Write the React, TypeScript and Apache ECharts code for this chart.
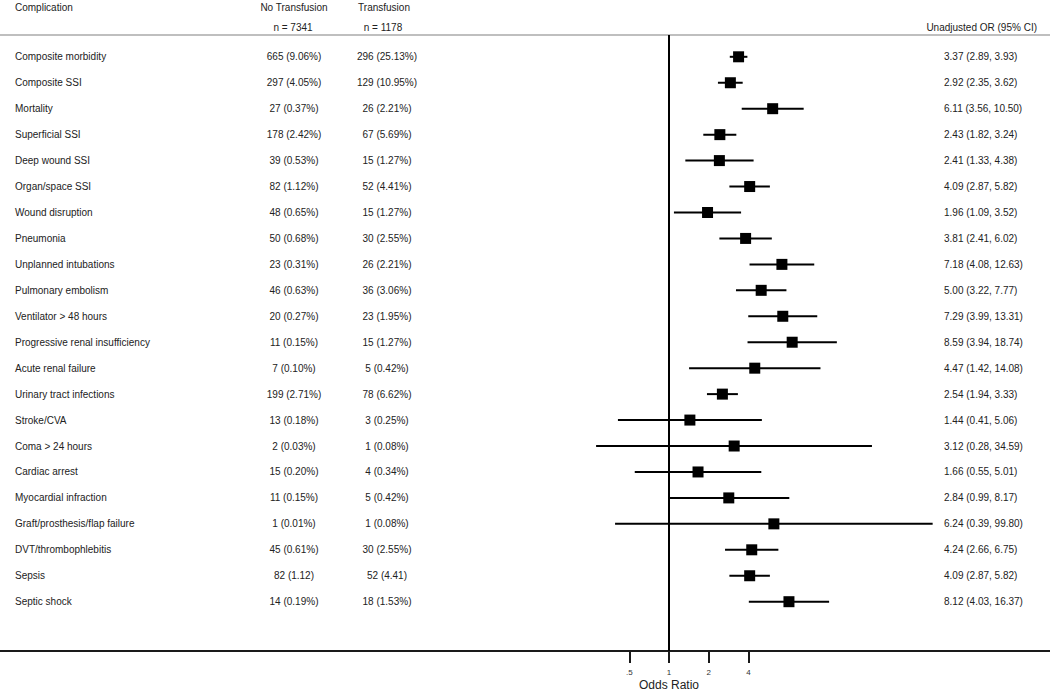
import React, { useEffect, useRef } from "react";
import * as echarts from "echarts";

const complications = [
  "Composite morbidity",
  "Composite SSI",
  "Mortality",
  "Superficial SSI",
  "Deep wound SSI",
  "Organ/space SSI",
  "Wound disruption",
  "Pneumonia",
  "Unplanned intubations",
  "Pulmonary embolism",
  "Ventilator > 48 hours",
  "Progressive renal insufficiency",
  "Acute renal failure",
  "Urinary tract infections",
  "Stroke/CVA",
  "Coma > 24 hours",
  "Cardiac arrest",
  "Myocardial infraction",
  "Graft/prosthesis/flap failure",
  "DVT/thrombophlebitis",
  "Sepsis",
  "Septic shock",
];

const noTransfusion = [
  "665 (9.06%)", "297 (4.05%)", "27 (0.37%)", "178 (2.42%)", "39 (0.53%)",
  "82 (1.12%)", "48 (0.65%)", "50 (0.68%)", "23 (0.31%)", "46 (0.63%)",
  "20 (0.27%)", "11 (0.15%)", "7 (0.10%)", "199 (2.71%)", "13 (0.18%)",
  "2 (0.03%)", "15 (0.20%)", "11 (0.15%)", "1 (0.01%)", "45 (0.61%)",
  "82 (1.12)", "14 (0.19%)",
];

const transfusion = [
  "296 (25.13%)", "129 (10.95%)", "26 (2.21%)", "67 (5.69%)", "15 (1.27%)",
  "52 (4.41%)", "15 (1.27%)", "30 (2.55%)", "26 (2.21%)", "36 (3.06%)",
  "23 (1.95%)", "15 (1.27%)", "5 (0.42%)", "78 (6.62%)", "3 (0.25%)",
  "1 (0.08%)", "4 (0.34%)", "5 (0.42%)", "1 (0.08%)", "30 (2.55%)",
  "52 (4.41)", "18 (1.53%)",
];

const oddsRatio = [3.37, 2.92, 6.11, 2.43, 2.41, 4.09, 1.96, 3.81, 7.18, 5.0, 7.29, 8.59, 4.47, 2.54, 1.44, 3.12, 1.66, 2.84, 6.24, 4.24, 4.09, 8.12];
const ciLower = [2.89, 2.35, 3.56, 1.82, 1.33, 2.87, 1.09, 2.41, 4.08, 3.22, 3.99, 3.94, 1.42, 1.94, 0.41, 0.28, 0.55, 0.99, 0.39, 2.66, 2.87, 4.03];
const ciUpper = [3.93, 3.62, 10.5, 3.24, 4.38, 5.82, 3.52, 6.02, 12.63, 7.77, 13.31, 18.74, 14.08, 3.33, 5.06, 34.59, 5.01, 8.17, 99.8, 6.75, 5.82, 16.37];

const tickValues = [0.5, 1, 2, 4];
const tickLabels = [".5", "1", "2", "4"];

const headerComplication = "Complication";
const headerNo = "No Transfusion";
const headerYes = "Transfusion";
const headerNoN = "n = 7341";
const headerYesN = "n = 1178";
const headerOR = "Unadjusted OR (95% CI)";
const axisTitle = "Odds Ratio";

const FONT = "'Liberation Sans', Arial, Helvetica, sans-serif";
const TEXT_COLOR = "#222";

// log2 axis extent so that 1 sits at x=669 with ~39.7px per doubling across 0..1050
const XMIN = Math.pow(2, -669 / 39.7);
const XMAX = Math.pow(2, (1050 - 669) / 39.7);

export default function App() {
  const ref = useRef<HTMLDivElement>(null);

  useEffect(() => {
    if (!ref.current) return;
    const chart = echarts.init(ref.current, null, { renderer: "svg" });

    const ciData = oddsRatio.map((v, i) => [v, i, ciLower[i], ciUpper[i]]);
    const textData = complications.map((_, i) => [1, i]);

    const headerText = (text: string, x: number, y: number, align: string, size = 10) => ({
      type: "text",
      x,
      y,
      silent: true,
      style: { text, fontSize: size, fontFamily: FONT, fill: TEXT_COLOR, align, verticalAlign: "middle" },
    });

    const option: any = {
      animation: false,
      backgroundColor: "#fff",
      grid: { left: 0, right: 0, top: 35, bottom: 43, containLabel: false },
      xAxis: {
        type: "log",
        logBase: 2,
        min: XMIN,
        max: XMAX,
        position: "bottom",
        axisLine: { show: true, onZero: false, lineStyle: { color: "#1a1a1a", width: 2 } },
        axisTick: {
          show: true,
          customValues: tickValues,
          length: 12,
          lineStyle: { color: "#1a1a1a", width: 2 },
        },
        axisLabel: {
          show: true,
          customValues: tickValues,
          formatter: (v: number) => {
            const idx = tickValues.findIndex((t) => Math.abs(t - v) < 1e-6);
            return idx >= 0 ? tickLabels[idx] : "";
          },
          fontSize: 8,
          margin: 17,
          color: "#333",
          fontFamily: FONT,
        },
        splitLine: { show: false },
        minorTick: { show: false },
      },
      yAxis: {
        type: "value",
        inverse: true,
        min: -0.84,
        max: 22.9,
        show: false,
        splitLine: { show: false },
      },
      graphic: [
        headerText(headerComplication, 15, 7, "left"),
        headerText(headerNo, 294, 7, "center"),
        headerText(headerYes, 384, 7, "center"),
        headerText(headerNoN, 293, 27, "center"),
        headerText(headerYesN, 383, 27, "center"),
        headerText(headerOR, 1037, 27, "right"),
        headerText(axisTitle, 669, 685, "center", 12),
        {
          type: "line",
          silent: true,
          shape: { x1: 0, y1: 35, x2: 1050, y2: 35 },
          style: { stroke: "#aaaaaa", lineWidth: 1.5 },
        },
      ],
      series: [
        {
          type: "custom",
          name: "OR",
          clip: false,
          silent: true,
          encode: { x: 0, y: 1 },
          data: ciData,
          renderItem: (params: any, api: any) => {
            const est = api.value(0);
            const row = api.value(1);
            const lo = api.value(2);
            const hi = api.value(3);
            const pE = api.coord([est, row]);
            const pL = api.coord([lo, row]);
            const pH = api.coord([hi, row]);
            const s = 11;
            return {
              type: "group",
              children: [
                {
                  type: "line",
                  shape: { x1: pL[0], y1: pL[1], x2: pH[0], y2: pH[1] },
                  style: { stroke: "#000", lineWidth: 2 },
                },
                {
                  type: "rect",
                  shape: { x: pE[0] - s / 2, y: pE[1] - s / 2, width: s, height: s },
                  style: { fill: "#000" },
                },
              ],
            };
          },
          markLine: {
            silent: true,
            symbol: "none",
            label: { show: false },
            lineStyle: { color: "#000", width: 2, type: "solid" },
            data: [{ xAxis: 1 }],
          },
        },
        {
          type: "custom",
          name: "labels",
          clip: false,
          silent: true,
          encode: { x: 0, y: 1 },
          data: textData,
          renderItem: (params: any, api: any) => {
            const i = params.dataIndex;
            const y = api.coord([1, api.value(1)])[1];
            const base = { fontSize: 10, fontFamily: FONT, fill: TEXT_COLOR, verticalAlign: "middle" };
            const orText = `${oddsRatio[i].toFixed(2)} (${ciLower[i].toFixed(2)}, ${ciUpper[i].toFixed(2)})`;
            return {
              type: "group",
              children: [
                { type: "text", x: 15, y, style: { ...base, text: complications[i], align: "left" } },
                { type: "text", x: 294, y, style: { ...base, text: noTransfusion[i], align: "center" } },
                { type: "text", x: 387, y, style: { ...base, text: transfusion[i], align: "center" } },
                { type: "text", x: 944, y, style: { ...base, text: orText, align: "left" } },
              ],
            };
          },
        },
      ],
    };

    chart.setOption(option);
    return () => {
      chart.dispose();
    };
  }, []);

  return (
    <div
      ref={ref}
      style={{ position: "absolute", left: 0, top: 0, width: 1050, height: 694 }}
    />
  );
}
